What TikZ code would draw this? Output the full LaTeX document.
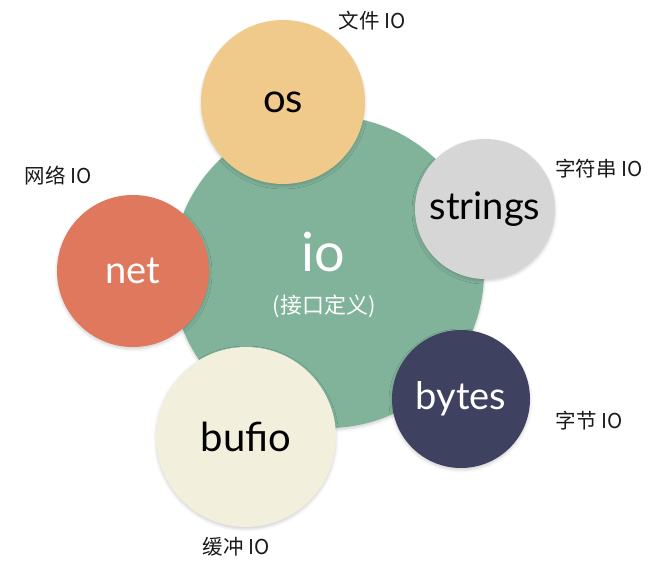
\documentclass[tikz,border=0pt]{standalone}
\usepackage{fontspec}
\setmainfont{Lato}
\newfontfamily\cjk{Noto Sans CJK SC}
\usepackage{xcolor}
\usetikzlibrary{shapes.geometric, shadows.blur}

\definecolor{ioGreen}{HTML}{80B39A}
\definecolor{osYellow}{HTML}{F0CA8A}
\definecolor{strGray}{HTML}{D6D6D6}
\definecolor{netRed}{HTML}{E0785D}
\definecolor{bytesNavy}{HTML}{3E4160}
\definecolor{bufCream}{HTML}{F2EFDC}

\begin{document}
\begin{tikzpicture}[x=1pt, y=1pt]
    % Define styles
    \tikzstyle{bubble} = [circle, inner sep=0pt, blur shadow={shadow xshift=0pt, shadow yshift=-2pt, shadow opacity=18, shadow blur radius=3pt}]
    \tikzstyle{tag} = [font=\cjk\fontsize{20.5}{20.5}\selectfont, text=black!90]

    \useasboundingbox (0,0) rectangle (657,-572);

    % Central package
    \node[bubble, fill=ioGreen, minimum size=312pt] (io) at (328,-272) {};
    \node[text=white, font=\fontsize{54}{54}\selectfont] (ioname) at (323,-252) {io};
    \node[text=white, font=\cjk\fontsize{22}{22}\selectfont] (iodesc) at (324,-306) {(接口定义)};

    % Surrounding packages
    \node[bubble, fill=osYellow, minimum size=164pt, font=\fontsize{40}{40}\selectfont] (os) at (283,-102) {os};
    \node[bubble, fill=strGray, minimum size=140pt, font=\fontsize{38}{38}\selectfont] (strings) at (485,-209) {strings};
    \node[bubble, fill=netRed, minimum size=152pt, text=white, font=\fontsize{38}{38}\selectfont] (net) at (133,-271) {net};
    \node[bubble, fill=bytesNavy, minimum size=138pt, text=white, font=\fontsize{38}{38}\selectfont] (bytes) at (461,-399) {bytes};
    \node[bubble, fill=bufCream, minimum size=180pt, font=\fontsize{40}{40}\selectfont] (bufio) at (246,-437) {bufio};

    % Labels
    \node[tag] (oslabel) at (372,-21) {文件 IO};
    \node[tag] (strlabel) at (599,-169) {字符串 IO};
    \node[tag] (netlabel) at (58,-176) {网络 IO};
    \node[tag] (byteslabel) at (589,-421) {字节 IO};
    \node[tag] (buflabel) at (236,-547) {缓冲 IO};
\end{tikzpicture}
\end{document}
